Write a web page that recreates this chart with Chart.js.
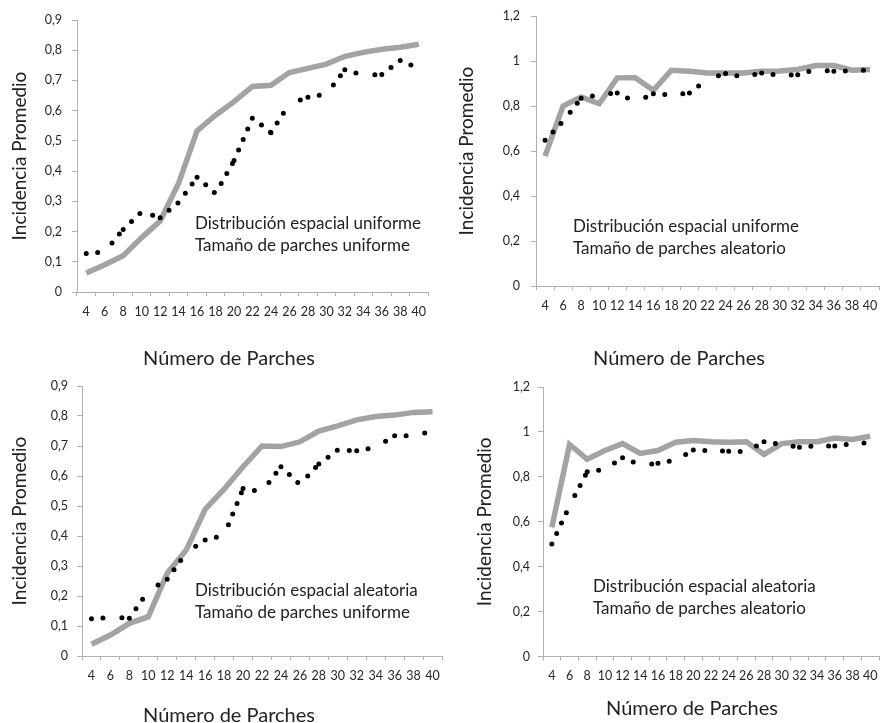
<!DOCTYPE html>
<html><head><meta charset="utf-8">
<script src="https://cdn.jsdelivr.net/npm/chart.js@4.4.1/dist/chart.umd.min.js"></script>
<style>
html,body{margin:0;padding:0;background:#fff;width:880px;height:723px;overflow:hidden;position:relative}
canvas{position:absolute}
</style></head><body>
<canvas id="c1" width="440" height="372" style="left:0;top:0"></canvas>
<canvas id="c2" width="435" height="372" style="left:445px;top:0"></canvas>
<canvas id="c3" width="445" height="353" style="left:0;top:370px"></canvas>
<canvas id="c4" width="435" height="353" style="left:445px;top:370px"></canvas>
<script>
// ---- data ----
const numeroParches = ['4','6','8','10','12','14','16','18','20','22','24','26','28','30','32','34','36','38','40'];

const uniUniGris  = [0.063,0.09,0.12,0.18,0.235,0.36,0.533,0.585,0.63,0.68,0.684,0.726,0.74,0.754,0.78,0.793,0.803,0.81,0.82];
const uniUniNegro = [0.127,0.133,0.207,0.265,0.246,0.296,0.38,0.326,0.435,0.576,0.527,0.623,0.644,0.655,0.735,0.717,0.72,0.766,0.74];

const uniAleGris  = [0.577,0.80,0.84,0.81,0.925,0.926,0.87,0.959,0.954,0.947,0.947,0.947,0.954,0.956,0.962,0.98,0.98,0.959,0.962];
const uniAleNegro = [0.648,0.732,0.834,0.85,0.858,0.818,0.855,0.848,0.858,0.919,0.944,0.928,0.947,0.936,0.939,0.962,0.954,0.957,0.96];

const aleUniGris  = [0.039,0.07,0.109,0.131,0.276,0.353,0.489,0.556,0.631,0.70,0.698,0.714,0.75,0.767,0.787,0.798,0.803,0.812,0.814];
const aleUniNegro = [0.124,0.129,0.126,0.216,0.256,0.344,0.387,0.402,0.558,0.548,0.631,0.572,0.64,0.687,0.684,0.696,0.734,0.734,0.75];

const aleAleGris  = [0.575,0.944,0.878,0.917,0.948,0.904,0.917,0.954,0.962,0.956,0.954,0.956,0.90,0.948,0.956,0.956,0.973,0.966,0.981];
const aleAleNegro = [0.501,0.671,0.823,0.833,0.885,0.853,0.86,0.875,0.919,0.917,0.914,0.912,0.956,0.944,0.932,0.938,0.937,0.948,0.952];

const tituloX = 'Número de Parches';
const tituloY = 'Incidencia Promedio';
const etiquetas = [
  ['Distribución espacial uniforme','Tamaño de parches uniforme'],
  ['Distribución espacial uniforme','Tamaño de parches aleatorio'],
  ['Distribución espacial aleatoria','Tamaño de parches uniforme'],
  ['Distribución espacial aleatoria','Tamaño de parches aleatorio']
];

// ---- rendering ----
const FONT = 'Lato, Carlito, Calibri, sans-serif';
const textos = {
  id: 'textos',
  afterDraw(chart, args, opts) {
    const ctx = chart.ctx;
    ctx.save();
    (opts.items || []).forEach(it => {
      ctx.font = it.size + 'px ' + FONT;
      ctx.fillStyle = it.color || '#222';
      ctx.textAlign = it.align || 'left';
      ctx.textBaseline = 'middle';
      ctx.fillText(it.text, it.x, it.y);
    });
    ctx.restore();
  }
};

function fmt(v) {
  if (Math.abs(v) < 1e-9) return '0';
  return String(Math.round(v * 10) / 10).replace('.', ',');
}

function panel(id, gris, negro, g) {
  const c = document.getElementById(id);
  const W = c.width, H = c.height;
  new Chart(c, {
    type: 'line',
    data: {
      labels: numeroParches,
      datasets: [
        {
          data: negro, order: 0,
          borderColor: '#000', borderWidth: 5, borderCapStyle: 'round',
          borderDash: [0, 11.5], pointRadius: 0, tension: 0, fill: false,
          segment: { borderDashOffset: ctx => (ctx.p0DataIndex % 2) * 0.001 }
        },
        {
          data: gris, order: 1,
          borderColor: '#a3a3a3', borderWidth: 5.5, borderJoinStyle: 'miter',
          borderCapStyle: 'butt', pointRadius: 0, tension: 0, fill: false
        }
      ]
    },
    options: {
      responsive: false, animation: false, devicePixelRatio: 1,
      layout: { padding: { left: 0, top: g.T, right: W - g.R, bottom: 0 } },
      plugins: {
        legend: { display: false }, tooltip: { enabled: false },
        textos: { items: [
          { text: tituloX, x: g.xt[0], y: g.xt[1], size: 20, align: 'center' },
          { text: etiquetas[g.k][0], x: g.an[0], y: g.an[1], size: 17 },
          { text: etiquetas[g.k][1], x: g.an[0], y: g.an[1] + 22, size: 17 }
        ] }
      },
      scales: {
        x: {
          type: 'category', offset: true,
          grid: { display: true, offset: true, drawOnChartArea: false, drawTicks: true, tickLength: 4, color: '#b0b0b0' },
          border: { display: true, color: '#b0b0b0', width: 1 },
          ticks: { autoSkip: false, maxRotation: 0, minRotation: 0, padding: 8, color: '#262626', font: { family: FONT, size: 12.5 } },
          afterFit(s) { s.height = H - g.B; s.paddingLeft = 0; s.paddingRight = 0; }
        },
        y: {
          min: 0, max: g.max,
          grid: { display: true, drawOnChartArea: false, drawTicks: true, tickLength: 5, color: '#b0b0b0' },
          border: { display: true, color: '#b0b0b0', width: 1 },
          ticks: { stepSize: g.step, padding: g.yp, color: '#262626', font: { family: FONT, size: 12.5 }, callback: v => fmt(v) },
          title: { display: true, text: tituloY, color: '#222', font: { family: FONT, size: 19, lineHeight: 1.2 }, padding: { top: g.ytp, bottom: 0 } },
          afterFit(s) { s.width = g.L; s.paddingTop = 0; s.paddingBottom = 0; }
        }
      }
    },
    plugins: [textos]
  });
}

panel('c1', uniUniGris, uniUniNegro, { k: 0, L: 77, R: 428, T: 20, B: 292, max: 0.9, step: 0.1, yp: 10, ytp: 8.5,  xt: [229, 359], an: [195, 224] });
panel('c2', uniAleGris, uniAleNegro, { k: 1, L: 91, R: 434, T: 16, B: 286, max: 1.2, step: 0.2, yp: 11, ytp: 10.5, xt: [234, 359], an: [128, 227] });
panel('c3', aleUniGris, aleUniNegro, { k: 2, L: 82, R: 442, T: 16, B: 286, max: 0.9, step: 0.1, yp: 9,  ytp: 8.5,  xt: [229, 346], an: [195, 221] });
panel('c4', aleAleGris, aleAleNegro, { k: 3, L: 98, R: 434, T: 17, B: 286.5, max: 1.2, step: 0.2, yp: 8, ytp: 28.5, xt: [247, 339], an: [148, 217] });
</script>
</body></html>
